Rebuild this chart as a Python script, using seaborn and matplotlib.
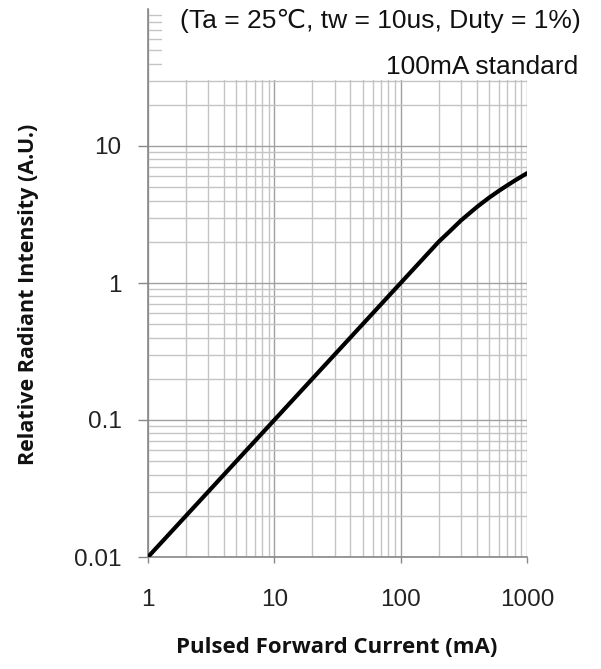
import matplotlib
matplotlib.use("Agg")
import matplotlib.pyplot as plt
import matplotlib.patches as mpatches
import pandas as pd
import seaborn as sns

# ---------------------------------------------------------------------------
# Dados (corrente pulsada x intensidade relativa)
# ---------------------------------------------------------------------------
corrente_ma = [1, 2, 5, 10, 20, 50, 100, 150, 200, 250, 300, 400, 500, 600, 700, 800, 900, 1000]
intensidade = [0.01, 0.02, 0.05, 0.1, 0.2, 0.5, 1.0, 1.5, 2.0, 2.43, 2.86, 3.58, 4.19, 4.71,
               5.17, 5.59, 5.97, 6.33]

x_ticks = [1, 10, 100, 1000]
x_tick_labels = ["1", "10", "100", "1000"]
y_ticks = [0.01, 0.1, 1, 10]
y_tick_labels = ["0.01", "0.1", "1", "10"]

df = pd.DataFrame({"corrente": corrente_ma, "intensidade": intensidade})

# ---------------------------------------------------------------------------
# Estilo
# ---------------------------------------------------------------------------
sns.set_style("white")
plt.rcParams["font.family"] = ["Liberation Sans", "DejaVu Sans"]

fig = plt.figure(figsize=(6.01, 6.69), dpi=100)
ax = fig.add_axes([148 / 601, (669 - 557) / 669, (527 - 148) / 601, (557 - 9) / 669])

sns.lineplot(data=df, x="corrente", y="intensidade", color="black", linewidth=3.0, ax=ax, zorder=4)

ax.set_xscale("log")
ax.set_yscale("log")
ax.set_xlim(1, 1000)
ax.set_ylim(0.01, 100)

ax.set_xticks(x_ticks)
ax.set_xticklabels(x_tick_labels)
ax.set_yticks(y_ticks)
ax.set_yticklabels(y_tick_labels)

ax.set_axisbelow(True)
ax.grid(True, which="major", color="#a0a0a0", linewidth=1.0)
ax.grid(True, which="minor", color="#c4c4c4", linewidth=1.0)

ax.tick_params(axis="both", which="major", labelsize=17.5, colors="#888888", labelcolor="#222222")
ax.tick_params(axis="x", which="major", direction="out", length=4.3, width=1, pad=19, bottom=True)
ax.tick_params(axis="y", which="major", direction="out", length=7, width=1, pad=12, left=True)
ax.tick_params(which="minor", length=0)

for side in ["top", "right"]:
    ax.spines[side].set_visible(False)
for side in ["left", "bottom"]:
    ax.spines[side].set_color("#888888")
    ax.spines[side].set_linewidth(1.2)

ax.set_xlabel("Pulsed Forward Current (mA)", fontsize=16, fontweight="bold",
              family=["Open Sans", "DejaVu Sans"], color="#111111")
ax.set_ylabel("Relative Radiant Intensity (A.U.)", fontsize=15.5, fontweight="bold",
              family=["Open Sans", "DejaVu Sans"], color="#111111")
ax.xaxis.set_label_coords(337 / 601, (669 - 637) / 669, transform=fig.transFigure)
ax.yaxis.set_label_coords(39 / 601, (669 - 294) / 669, transform=fig.transFigure)

# Caixa branca sobre a grade no topo (onde ficam as anotações)
caixa = mpatches.Rectangle((162 / 601, (669 - 80) / 669), 1, 1, transform=fig.transFigure,
                           facecolor="white", edgecolor="none", zorder=2, clip_on=False)
fig.add_artist(caixa)

fig.text(180 / 601, (669 - 21) / 669, "(Ta = 25\u2103, tw = 10us, Duty = 1%)",
         fontsize=19, ha="left", va="center", color="#111111",
         family=["Liberation Sans", "DejaVu Sans", "Noto Sans CJK JP"], zorder=3)
fig.text(578 / 601, (669 - 67) / 669, "100mA standard",
         fontsize=19, ha="right", va="center", color="#111111", zorder=3)

fig.savefig("out.png", dpi=100)
plt.close(fig)
